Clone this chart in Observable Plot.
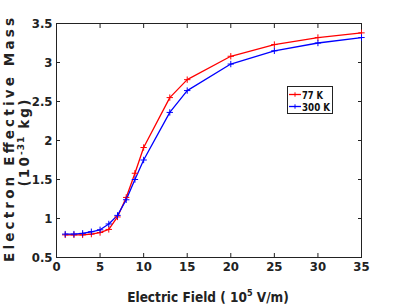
<!DOCTYPE html>
<html><head><meta charset="utf-8">
<script src="https://cdn.jsdelivr.net/npm/d3@7"></script>
<script src="https://cdn.jsdelivr.net/npm/@observablehq/plot@0.6"></script>
<style>body{margin:0;background:#fff}</style>
</head><body><div id="chart"></div>
<script>
const field = [1,2,3,4,5,6,7,8,9,10,13,15,20,25,30,35];
const mass77 = [0.79,0.79,0.79,0.80,0.82,0.86,1.02,1.27,1.58,1.91,2.55,2.78,3.08,3.23,3.32,3.38];
const mass300 = [0.80,0.80,0.81,0.83,0.855,0.93,1.04,1.24,1.50,1.75,2.36,2.64,2.98,3.15,3.25,3.32];
const seriesNames = ["77 K","300 K"];
const seriesColors = ["#ff0000","#0000ff"];
const xTicks = [0,5,10,15,20,25,30,35];
const yTicks = [0.5,1,1.5,2,2.5,3,3.5];

const rows = [];
field.forEach((f,i)=>{rows.push({x:f,y:mass77[i],s:seriesNames[0]});rows.push({x:f,y:mass300[i],s:seriesNames[1]});});

const font = "'DejaVu Sans Condensed','DejaVu Sans',sans-serif";
const plot = Plot.plot({
  width:399, height:307,
  marginLeft:56, marginRight:38, marginTop:23, marginBottom:50,
  style:{fontFamily:font, fontSize:"13px", fontWeight:"bold", color:"#222"},
  x:{domain:[0,35]},
  y:{domain:[0.5,3.5]},
  color:{domain:seriesNames, range:seriesColors},
  marks:[
    Plot.frame({stroke:"#222", strokeWidth:1}),
    Plot.axisX({ticks:xTicks, tickSize:-4, tickPadding:8, label:null, anchor:"bottom", tickFormat:d=>String(d), stroke:"#222"}),
    Plot.axisX({ticks:xTicks, tickSize:-4, label:null, anchor:"top", tickFormat:()=>"", stroke:"#222"}),
    Plot.axisY({ticks:yTicks, tickSize:-4, tickPadding:8, label:null, anchor:"left", tickFormat:d=>String(d), stroke:"#222"}),
    Plot.axisY({ticks:yTicks, tickSize:-4, label:null, anchor:"right", tickFormat:()=>"", stroke:"#222"}),
    Plot.line(rows,{x:"x",y:"y",stroke:"s",strokeWidth:1.3}),
    Plot.dot(rows,{x:"x",y:"y",stroke:"s",symbol:"plus",r:2.2,strokeWidth:1})
  ]
});
document.getElementById("chart").appendChild(plot);
const svg = d3.select(plot);
// y label
svg.append("text").attr("transform","translate(14,140) rotate(-90)").attr("text-anchor","middle")
  .attr("textLength",244).attr("lengthAdjust","spacing")
  .style("font-family","'DejaVu Sans',sans-serif").style("font-weight","bold").style("font-size","13.5px").attr("fill","#222")
  .text("Electron Effective Mass");
const yl2 = svg.append("text").attr("transform","translate(29,142) rotate(-90)").attr("text-anchor","middle")
  .style("font-family","'DejaVu Sans',sans-serif").style("font-weight","bold").style("font-size","13.5px").style("letter-spacing","2.2px").attr("fill","#222");
yl2.append("tspan").text("(10");
yl2.append("tspan").attr("dy",-5).style("font-size","9px").style("letter-spacing","1px").text("-31");
yl2.append("tspan").attr("dy",5).text(" kg)");
// x label
const xl = svg.append("text").attr("x",208).attr("y",302).attr("text-anchor","middle")
  .style("font-family",font).style("font-weight","bold").style("font-size","13.5px").attr("fill","#222");
xl.append("tspan").text("Electric Field ( 10");
xl.append("tspan").attr("dy",-6).style("font-size","9px").text("5");
xl.append("tspan").attr("dy",6).text(" V/m)");
// legend
const lg = svg.append("g");
lg.append("rect").attr("x",287.5).attr("y",86.5).attr("width",45).attr("height",27).attr("fill","#fff").attr("stroke","#222");
seriesNames.forEach((n,i)=>{
  const yy = 94.5 + i*12;
  lg.append("line").attr("x1",289).attr("x2",301).attr("y1",yy).attr("y2",yy).attr("stroke",seriesColors[i]).attr("stroke-width",1.3);
  lg.append("path").attr("d",`M${295-2.2},${yy}h4.4M295,${yy-2.2}v4.4`).attr("stroke",seriesColors[i]).attr("fill","none");
  lg.append("text").attr("x",302).attr("y",yy+4).attr("text-anchor","start")
    .attr("textLength", n.length===4 ? 21 : 28).attr("lengthAdjust","spacingAndGlyphs")
    .style("font-family",font).style("font-weight","bold").style("font-size","10.5px").attr("fill","#111").text(n);
});
</script></body></html>
